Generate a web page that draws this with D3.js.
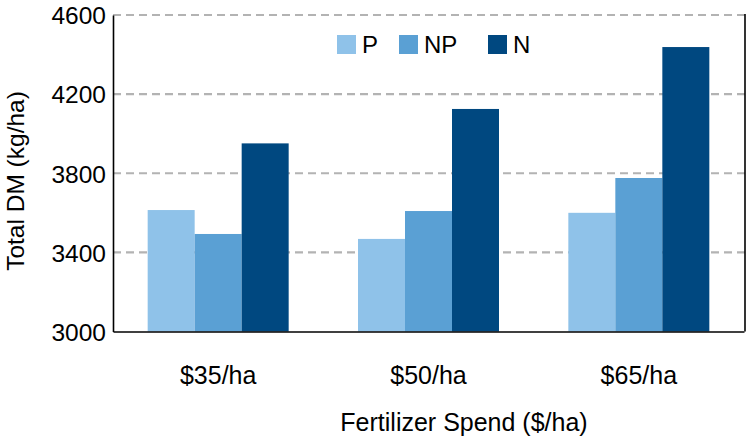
<!DOCTYPE html>
<html>
<head>
<meta charset="utf-8">
<script src="https://cdn.jsdelivr.net/npm/d3@7/dist/d3.min.js"></script>
<style>
  html, body { margin: 0; padding: 0; background: #fff; }
  svg { display: block; }
  text { font-family: "Liberation Sans", Arial, Helvetica, sans-serif; fill: #000; }
</style>
</head>
<body>
<svg id="chart" width="747" height="440"></svg>
<script>
// ---- data ----
const categories = ["$35/ha", "$50/ha", "$65/ha"];
const seriesNames = ["P", "NP", "N"];
const valuesP  = [3614, 3468, 3600];
const valuesNP = [3493, 3609, 3776];
const valuesN  = [3951, 4125, 4438];
const yTicks = [3000, 3400, 3800, 4200, 4600];
const yTitle = "Total DM (kg/ha)";
const xTitle = "Fertilizer Spend ($/ha)";

const colors = { P: "#8FC2E9", NP: "#5AA0D4", N: "#004880" };
const seriesValues = { P: valuesP, NP: valuesNP, N: valuesN };

(function () {
// ---- layout ----
const svg = d3.select("#chart");
const mLeft = 113, mRight = 744, mTop = 15, mBottom = 331.5;
const fs = 25, fsTick = 24.5, fsLegend = 24;
const font = '"Liberation Sans", Arial, Helvetica, sans-serif';

const y = d3.scaleLinear().domain([3000, 4600]).range([mBottom, mTop]);
const x0 = d3.scaleBand().domain(categories).range([mLeft, mRight]).padding(0);
const groupW = 141;
const x1 = d3.scaleBand().domain(seriesNames).range([0, groupW]).padding(0);

// gridlines
svg.append("g").selectAll("line")
  .data(yTicks.filter(t => t !== 3000))
  .join("line")
  .attr("x1", mLeft).attr("x2", mRight + 1)
  .attr("y1", d => y(d)).attr("y2", d => y(d))
  .attr("stroke", "#b3b3b3")
  .attr("stroke-width", 2.2)
  .attr("stroke-dasharray", "8,5");

// bars
const rows = [];
categories.forEach((c, i) => seriesNames.forEach(s => rows.push({ c, s, v: seriesValues[s][i] })));
svg.append("g").selectAll("rect")
  .data(rows)
  .join("rect")
  .attr("x", d => x0(d.c) + (x0.bandwidth() - groupW) / 2 + x1(d.s))
  .attr("width", x1.bandwidth())
  .attr("y", d => y(d.v))
  .attr("height", d => y(3000) - y(d.v))
  .attr("fill", d => colors[d.s]);

// y axis
const yAxis = d3.axisLeft(y).tickValues(yTicks).tickSize(0).tickFormat(d3.format("d"));
const gy = svg.append("g").attr("transform", `translate(${mLeft},0)`).call(yAxis);
gy.select(".domain").attr("stroke", "#000").attr("stroke-width", 1.6);
gy.selectAll("text")
  .attr("x", -7)
  .attr("dy", "0.36em")
  .style("font-size", fsTick + "px")
  .style("font-family", font)
  .attr("fill", "#000");

// x axis
const xAxis = d3.axisBottom(x0).tickSize(0);
const gx = svg.append("g").attr("transform", `translate(0,${mBottom})`).call(xAxis);
gx.select(".domain").attr("stroke", "#000").attr("stroke-width", 1.6);
gx.selectAll("text")
  .attr("y", 384 - mBottom)
  .attr("dy", 0)
  .style("font-size", fs + "px")
  .style("font-family", font)
  .attr("fill", "#000");

// right frame line
svg.append("line")
  .attr("x1", mRight + 1).attr("x2", mRight + 1)
  .attr("y1", y(4600) - 1).attr("y2", y(3000))
  .attr("stroke", "#000").attr("stroke-width", 1.6);

// axis titles
svg.append("text")
  .attr("transform", `translate(24,181) rotate(-90)`)
  .attr("text-anchor", "middle")
  .style("font-size", "24.5px")
  .text(yTitle);

svg.append("text")
  .attr("transform", `translate(464,431)`)
  .attr("text-anchor", "middle")
  .style("font-size", fs + "px")
  .text(xTitle);

// legend
const legendX = { P: 337, NP: 399, N: 488 };
const lg = svg.append("g");
seriesNames.forEach(s => {
  lg.append("rect")
    .attr("x", legendX[s]).attr("y", 35)
    .attr("width", 19).attr("height", 19)
    .attr("fill", colors[s]);
  lg.append("text")
    .attr("x", legendX[s] + 25).attr("y", 53)
    .style("font-size", fsLegend + "px")
    .text(s);
});
})();
</script>
</body>
</html>
